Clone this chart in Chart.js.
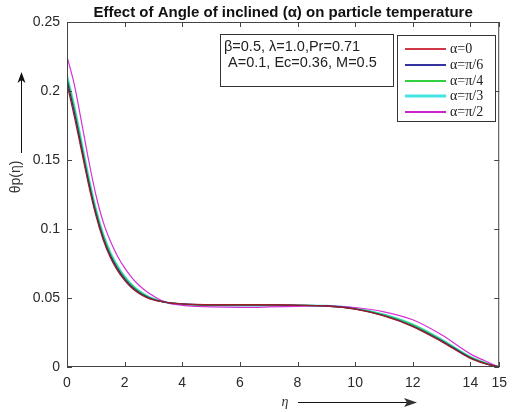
<!DOCTYPE html>
<html><head><meta charset="utf-8">
<script src="https://cdn.jsdelivr.net/npm/chart.js@4"></script>
<style>html,body{margin:0;padding:0;background:#fff}#wrap{width:515px;height:412px;position:relative}</style>
</head><body><div id="wrap"><canvas id="c" width="515" height="412"></canvas></div>
<script>
const eta      = [0,0.25,0.5,0.75,1,1.25,1.5,1.75,2,2.25,2.5,2.75,3,3.25,3.5,4,4.5,5,6,7,8,9,10,11,12,13,14,14.5,15];
const alpha0   = [0.205,0.182,0.157,0.132,0.110,0.0925,0.0795,0.0700,0.0628,0.0573,0.0533,0.0505,0.0486,0.0475,0.0467,0.0458,0.0453,0.0451,0.0451,0.0451,0.0448,0.0442,0.0420,0.0370,0.0293,0.0184,0.0063,0.0025,0];
const alphaPi6 = [0.208,0.185,0.1595,0.1342,0.1118,0.0941,0.0809,0.0713,0.0639,0.0582,0.0540,0.0510,0.0489,0.0476,0.0467,0.0457,0.0452,0.0450,0.0450,0.0450,0.0447,0.0442,0.0421,0.0372,0.0297,0.0190,0.0067,0.0027,0];
const alphaPi4 = [0.210,0.188,0.162,0.1365,0.1138,0.0958,0.0825,0.0726,0.0650,0.0592,0.0548,0.0516,0.0493,0.0478,0.0467,0.0455,0.0450,0.0447,0.0447,0.0448,0.0446,0.0443,0.0423,0.0378,0.0305,0.0196,0.0071,0.0030,0];
const alphaPi3 = [0.2115,0.1894,0.1637,0.1378,0.1148,0.0967,0.0833,0.0734,0.0657,0.0597,0.0552,0.0519,0.0495,0.0478,0.0466,0.0455,0.0449,0.0446,0.0446,0.0446,0.0446,0.0443,0.0424,0.0380,0.0308,0.0199,0.0073,0.0031,0];
const alphaPi2 = [0.225,0.205,0.178,0.150,0.125,0.1055,0.0915,0.0805,0.0718,0.0648,0.0592,0.0549,0.0515,0.0485,0.0465,0.0447,0.0439,0.0435,0.0432,0.0435,0.0440,0.0444,0.0431,0.0400,0.0342,0.0233,0.0095,0.0045,0];
const seriesLabels = ['α=0','α=π/6','α=π/4','α=π/3','α=π/2'];
const seriesColors = ['#9a1e28','#2a2a7a','#2ecc50','#44e0dc','#d630d6'];
const legendColors = ['#d03848','#3434a0','#30d040','#44e4e0','#cc22cc'];
const seriesWidths = [1.3,1.3,1.3,2,1.2];
const xTicks = [0,2,4,6,8,10,12,14,15];
const yTicks = [0,0.05,0.1,0.15,0.2,0.25];
const titleText = 'Effect of Angle of inclined (α) on particle temperature';
const noteLines = ['β=0.5, λ=1.0,Pr=0.71',' A=0.1, Ec=0.36, M=0.5'];

const allSeries = [alpha0, alphaPi6, alphaPi4, alphaPi3, alphaPi2];
const drawOrder = [0,1,3,4,2];
const datasets = allSeries.map((s,i)=>({
  label: seriesLabels[i],
  data: eta.map((x,j)=>({x:x,y:s[j]})),
  borderColor: seriesColors[i],
  borderWidth: seriesWidths[i],
  pointRadius: 0,
  fill: false,
  cubicInterpolationMode: 'monotone',
  order: drawOrder[i]
}));

const TXT = '#2a2a2a';
const SANS = '"Liberation Sans", Arial, Helvetica, sans-serif';
const deco = {
  id: 'deco',
  afterDraw(chart) {
    const ctx = chart.ctx, a = chart.chartArea;
    const xs = chart.scales.x, ys = chart.scales.y;
    ctx.save();
    ctx.strokeStyle = '#444'; ctx.lineWidth = 1;
    ctx.strokeRect(a.left+0.5, a.top+0.5, a.right-a.left-1, a.bottom-a.top-1);
    ctx.beginPath();
    xTicks.forEach(t=>{ const px=Math.round(xs.getPixelForValue(t))+0.5;
      ctx.moveTo(px,a.bottom); ctx.lineTo(px,a.bottom-5);
      ctx.moveTo(px,a.top); ctx.lineTo(px,a.top+5); });
    yTicks.forEach(t=>{ const py=Math.round(ys.getPixelForValue(t))+0.5;
      ctx.moveTo(a.left,py); ctx.lineTo(a.left+5,py);
      ctx.moveTo(a.right,py); ctx.lineTo(a.right-5,py); });
    ctx.stroke();
    // title
    ctx.fillStyle = '#111';
    ctx.font = 'bold 15px ' + SANS;
    ctx.textAlign = 'center'; ctx.textBaseline = 'middle';
    ctx.fillText(titleText, (a.left+a.right)/2, 13);
    // note box
    ctx.fillStyle = '#fff';
    ctx.fillRect(220,34,173,52);
    ctx.strokeStyle = '#333'; ctx.lineWidth = 1;
    ctx.strokeRect(220.5,34.5,173,52);
    ctx.fillStyle = '#222';
    ctx.font = '14.5px ' + SANS;
    ctx.textAlign = 'left';
    ctx.fillText(noteLines[0], 224, 47);
    ctx.fillText(noteLines[1], 224, 63);
    // legend box
    ctx.fillStyle = '#fff';
    ctx.fillRect(397,35,98,86);
    ctx.strokeStyle = '#333';
    ctx.strokeRect(397.5,35.5,98,86);
    ctx.font = '14px "Liberation Serif", "Times New Roman", serif';
    seriesLabels.forEach((lab,i)=>{
      const y = Math.round(49 + i*15.8);
      ctx.strokeStyle = legendColors[i]; ctx.lineWidth = i===3 ? 3 : 2;
      ctx.beginPath(); ctx.moveTo(405,y); ctx.lineTo(446,y); ctx.stroke();
      ctx.fillStyle = '#222';
      ctx.fillText(lab, 450, y+0.5);
    });
    // y axis label with arrow
    ctx.save();
    ctx.translate(16,177); ctx.rotate(-Math.PI/2);
    ctx.font = '14px ' + SANS;
    ctx.textAlign='center'; ctx.fillStyle='#333';
    ctx.fillText('θp(η)',0,0);
    ctx.restore();
    ctx.strokeStyle='#111'; ctx.lineWidth=1;
    ctx.beginPath(); ctx.moveTo(21.5,153); ctx.lineTo(21.5,80); ctx.stroke();
    ctx.fillStyle='#111';
    ctx.beginPath(); ctx.moveTo(21.5,72); ctx.lineTo(17.5,83); ctx.lineTo(21.5,80); ctx.lineTo(25.5,83); ctx.closePath(); ctx.fill();
    // x axis label with arrow
    ctx.font = 'italic 14px "Liberation Serif", serif';
    ctx.textAlign='center'; ctx.fillStyle='#333';
    ctx.fillText('η',285,402);
    ctx.beginPath(); ctx.moveTo(298,402.5); ctx.lineTo(408,402.5); ctx.stroke();
    ctx.beginPath(); ctx.moveTo(417,402.5); ctx.lineTo(404,398); ctx.lineTo(407,402.5); ctx.lineTo(404,407); ctx.closePath(); ctx.fill();
    ctx.restore();
  }
};

new Chart(document.getElementById('c'), {
  type: 'line',
  data: { datasets },
  options: {
    responsive: false, animation: false,
    layout: { padding: { left: 0, top: 22, right: 10, bottom: 0 } },
    plugins: { legend: { display: false }, tooltip: { enabled: false } },
    scales: {
      x: {
        type: 'linear', min: 0, max: 15,
        afterBuildTicks: s => { s.ticks = xTicks.map(v=>({value:v})); },
        afterFit: s => { s.height = 45; },
        grid: { display: false, drawTicks: false },
        border: { display: false },
        ticks: { color: TXT, font: { size: 14, family: SANS }, padding: 8, maxRotation: 0, autoSkip: false,
          callback: v => String(v) }
      },
      y: {
        type: 'linear', min: 0, max: 0.25,
        afterBuildTicks: s => { s.ticks = yTicks.map(v=>({value:v})); },
        afterFit: s => { s.width = 67; },
        grid: { display: false, drawTicks: false },
        border: { display: false },
        ticks: { color: TXT, font: { size: 14, family: SANS }, padding: 7,
          callback: v => String(Math.round(v*100)/100) }
      }
    }
  },
  plugins: [deco]
});
</script></body></html>
